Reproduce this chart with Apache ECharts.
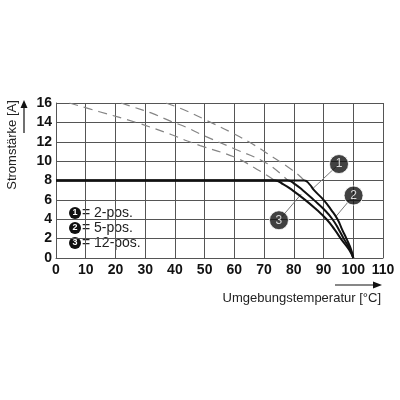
<!DOCTYPE html>
<html>
<head>
    <meta charset="utf-8">
    <title>Stromstärke / Umgebungstemperatur</title>
    <script src="https://cdn.jsdelivr.net/npm/echarts@6/dist/echarts.min.js"></script>
    <style>
        html, body { margin: 0; padding: 0; background: #fff; }
    </style>
</head>
<body>
<div id="main" style="width: 400px;height:400px;"></div>
<script>
    // derating curves [temp, current]
    var curve1 = [[0, 8], [83.5, 8], [85.3, 7.6], [86.8, 7], [90, 6], [92.5, 5], [94.7, 4], [96.3, 2.9], [97.7, 2], [99.3, 0.85], [100, 0]];
    var curve2 = [[0, 8], [78, 8], [80.5, 7.6], [83, 7], [86.7, 6], [90.2, 5], [93, 4], [95.2, 2.9], [96.8, 2], [99, 0.85], [100, 0]];
    var curve3 = [[0, 8], [73.6, 8], [76.5, 7.6], [79.5, 7], [83.8, 6], [87.6, 5], [91, 4], [93.8, 2.9], [95.8, 2], [98.6, 0.85], [100, 0]];
    // dashed continuations above 8 A
    var dash1 = [[37, 16], [43, 15.3], [50, 14.3], [60, 12.8], [67, 11.6], [73, 10.4], [78, 9.4], [81.5, 8.6], [83.5, 8]];
    var dash2 = [[21.9, 16], [25.8, 15.6], [32.6, 14.9], [38.7, 14.1], [43.8, 13.5], [48.5, 12.8], [59.8, 11.3], [71, 9.76], [78, 8]];
    var dash3 = [[4.5, 16], [14.6, 15.1], [26.9, 14.0], [38.7, 12.75], [44, 12.1], [48.5, 11.6], [59.8, 10.45], [66.6, 9.35], [73.6, 8]];
    // numbered callouts: label, circle position, leader end
    var callouts = [
        {n: '1', at: [95.2, 9.7], to: [86.5, 7.2]},
        {n: '2', at: [100.1, 6.45], to: [94.2, 4.3]},
        {n: '3', at: [75, 3.9], to: [82.5, 6.6]}
    ];
    var legendRows = ['2-pos.', '5-pos.', '12-pos.'];

    var myChart = echarts.init(document.getElementById('main'));
    var font = "'Liberation Sans', Arial, sans-serif";

    var series = [];
    [dash1, dash2, dash3].forEach(function (d) {
        series.push({
            type: 'line', data: d, smooth: 0.4, symbol: 'none', silent: true,
            lineStyle: {color: '#858585', width: 1.2, type: [9, 6]}
        });
    });
    callouts.forEach(function (c) {
        series.push({
            type: 'line', data: [c.at, c.to], symbol: 'none', silent: true,
            lineStyle: {color: '#777', width: 1}
        });
    });
    [curve3, curve2, curve1].forEach(function (d) {
        series.push({
            type: 'line', data: d, smooth: 0.5, symbol: 'none', silent: true,
            lineStyle: {color: '#111', width: 2}
        });
    });
    series.push({
        type: 'scatter', silent: true, symbolSize: 19, z: 10,
        itemStyle: {color: '#111', borderColor: '#fff', borderWidth: 1},
        data: callouts.map(function (c) { return {value: c.at, name: c.n}; }),
        label: {show: true, position: 'inside', formatter: '{b}', color: '#fff', fontSize: 12, fontFamily: font}
    });

    // in-plot key: black numbered disc + text
    var keyItems = [];
    legendRows.forEach(function (t, i) {
        var y = 213 + i * 15;
        keyItems.push({type: 'circle', shape: {cx: 75, cy: y, r: 6}, style: {fill: '#111'}});
        keyItems.push({type: 'text', x: 75, y: y, z: 101,
            style: {text: String(i + 1), fill: '#fff', font: 'bold 9px ' + font, align: 'center', verticalAlign: 'middle'}});
        keyItems.push({type: 'text', x: 82, y: y,
            style: {text: '= ' + t, fill: '#222', font: '14px ' + font, align: 'left', verticalAlign: 'middle'}});
    });

    option = {
        animation: false,
        grid: {left: 56, right: 17, top: 103, bottom: 142},
        xAxis: {
            type: 'value', min: 0, max: 110, interval: 10,
            axisLine: {lineStyle: {color: '#555', width: 1}},
            axisTick: {show: false},
            axisLabel: {color: '#111', fontWeight: 'bold', fontSize: 14, fontFamily: font, margin: 5},
            splitLine: {lineStyle: {color: '#555', width: 1}}
        },
        yAxis: {
            type: 'value', min: 0, max: 16, interval: 2,
            axisLine: {show: true, lineStyle: {color: '#555', width: 1}},
            axisTick: {show: false},
            axisLabel: {color: '#111', fontWeight: 'bold', fontSize: 14, fontFamily: font, margin: 4},
            splitLine: {lineStyle: {color: '#555', width: 1}}
        },
        graphic: [
            // y axis title + arrow
            {type: 'text', x: 12, y: 145, rotation: Math.PI / 2,
                style: {text: 'Stromstärke [A]', fill: '#222', font: '13px ' + font, align: 'center', verticalAlign: 'middle'}},
            {type: 'line', shape: {x1: 24, y1: 133, x2: 24, y2: 106}, style: {stroke: '#111', lineWidth: 1.2}},
            {type: 'polygon', shape: {points: [[20.5, 108], [27.5, 108], [24, 100]]}, style: {fill: '#111'}},
            // x axis title + arrow
            {type: 'text', x: 381, y: 298,
                style: {text: 'Umgebungstemperatur [°C]', fill: '#222', font: '13px ' + font, align: 'right', verticalAlign: 'middle'}},
            {type: 'line', shape: {x1: 335, y1: 285, x2: 374, y2: 285}, style: {stroke: '#111', lineWidth: 1.2}},
            {type: 'polygon', shape: {points: [[373, 281.5], [373, 288.5], [382, 285]]}, style: {fill: '#111'}}
        ].concat(keyItems),
        series: series
    };

    myChart.setOption(option);
</script>
</body>
</html>
